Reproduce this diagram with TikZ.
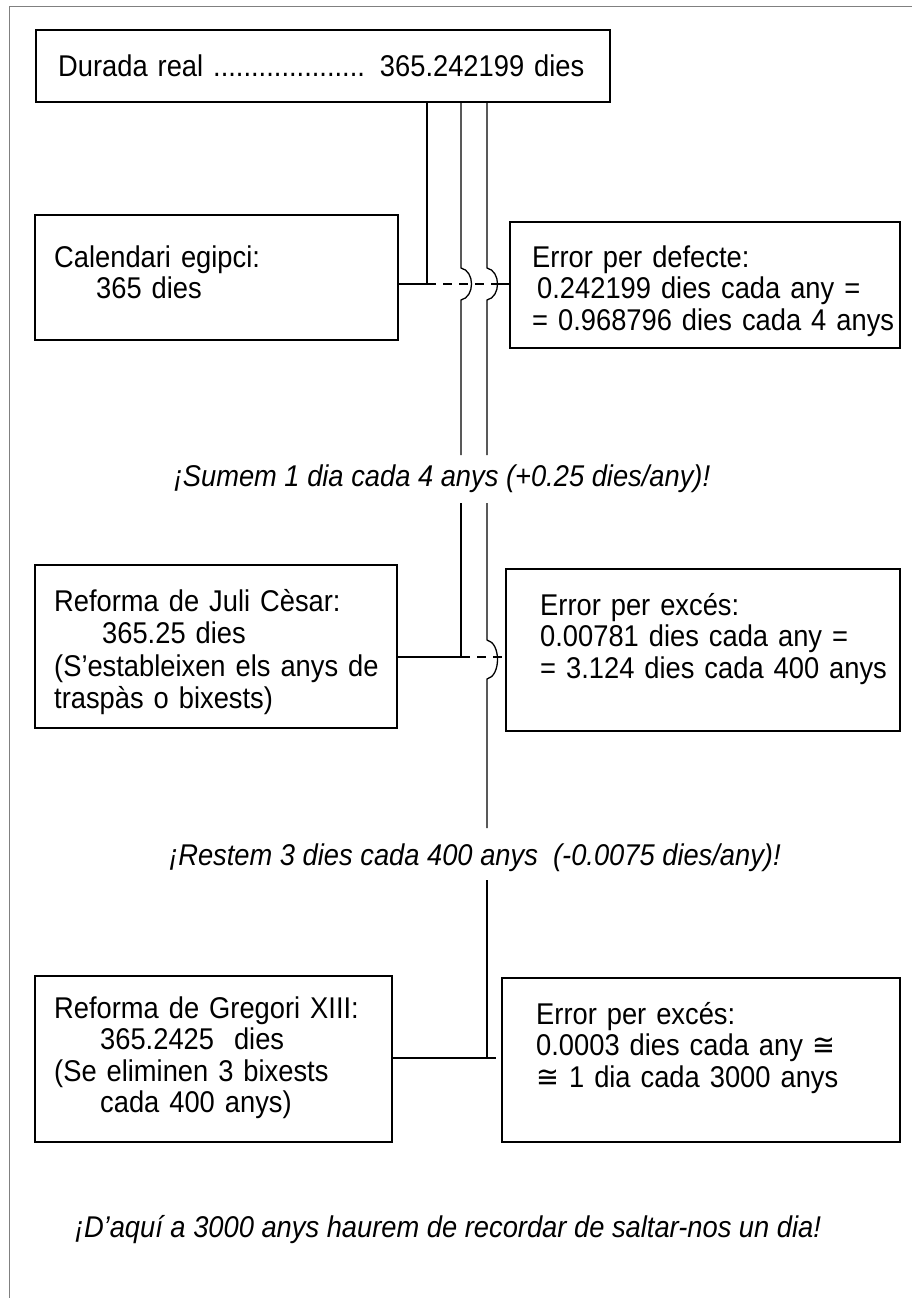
\documentclass[tikz,border=0pt]{standalone}
\usepackage{fontspec}
\setmainfont{Liberation Sans}[FakeStretch=0.91]
\newfontfamily\symfont{DejaVu Sans}[FakeStretch=0.91]
\begin{document}
\begin{tikzpicture}[x=1pt,y=-1pt,
  box/.style={draw, line width=1.6pt, inner sep=0pt},
  conn/.style={line width=1.3pt},
  dsh/.style={line width=1.3pt, dash pattern=on 9pt off 7pt},
  txt/.style={font=\fontsize{30}{31.5}\selectfont, inner sep=0pt, anchor=base west, text width=600pt, align=left},
  ital/.style={font=\fontsize{30}{31.5}\selectfont\itshape, inner sep=0pt, anchor=base}]
\useasboundingbox (0,0) rectangle (912,1298);
\draw[gray, line width=1pt] (9,1298) -- (9,7) -- (912,7);

% boxes
\node[box, minimum width=574pt, minimum height=72pt] (top) at (323,66) {};
\node[box, minimum width=363pt, minimum height=125pt] (egy) at (216.5,277.5) {};
\node[box, minimum width=390pt, minimum height=126pt] (err1) at (705,285) {};
\node[box, minimum width=362pt, minimum height=163pt] (juli) at (216,646.5) {};
\node[box, minimum width=394pt, minimum height=162pt] (err2) at (703,650) {};
\node[box, minimum width=357pt, minimum height=166pt] (greg) at (213.5,1059) {};
\node[box, minimum width=398pt, minimum height=164pt] (err3) at (701,1060) {};

% texts
\node[txt] (topt) at (58,77) {Durada real .................... 365.242199 dies};
\node[txt] (egyt) at (54,267) {Calendari egipci:\\\hspace*{42pt}365 dies};
\node[txt] (err1t) at (532,267) {Error per defecte:\\\hspace*{5pt}0.242199 dies cada any =\\= 0.968796 dies cada 4 anys};
\node[txt, font=\fontsize{30}{32.5}\selectfont] (julit) at (54,611) {Reforma de Juli Cèsar:\\\hspace*{48pt}365.25 dies\\(S’estableixen els anys de\\traspàs o bixests)};
\node[txt] (err2t) at (540,615) {Error per excés:\\0.00781 dies cada any =\\= 3.124 dies cada 400 anys};
\node[txt] (gregt) at (54,1018) {Reforma de Gregori XIII:\\\hspace*{46pt}365.2425~ dies\\(Se eliminen 3 bixests\\\hspace*{46pt}cada 400 anys)};
\node[txt] (err3t) at (536,1024) {Error per excés:\\0.0003 dies cada any {\symfont ≅}\\{\symfont ≅} 1 dia cada 3000 anys};

\node[ital] (sumem) at (442,486) {¡Sumem 1 dia cada 4 anys (+0.25 dies/any)!};
\node[ital] (restem) at (475,865) {¡Restem 3 dies cada 400 anys~ (-0.0075 dies/any)!};
\node[ital] (final) at (448,1237) {¡D’aquí a 3000 anys haurem de recordar de saltar-nos un dia!};

% junction coordinates
\coordinate (h1) at (427,284);
\coordinate (h2) at (461,284);
\coordinate (h3) at (487,284);
\coordinate (j2) at (461,657);
\coordinate (j3) at (487,657);
\coordinate (g3) at (487,1058);
\coordinate (gapA) at (0,455);
\coordinate (gapB) at (0,503);
\coordinate (gapC) at (0,828);
\coordinate (gapD) at (0,880);

% egyptian calendar
\draw[conn] (top.south -| h1) -- (h1) -- (h1 -| egy.east);
\draw[dsh] (h1) -- ([xshift=72pt]h1);
\draw[conn] ([xshift=72pt]h1) -- (h1 -| err1.west);

% second line (Juli)
\draw[conn] (top.south -| h2) -- ([yshift=16pt]h2) .. controls +(14,3) and +(14,-3) .. ([yshift=-16pt]h2) -- (h2 |- gapA);
\draw[conn] (h2 |- gapB) -- (j2) -- (j2 -| juli.east);
\draw[dsh] (j2) -- (j2 -| err2.west);

% third line (Gregori)
\draw[conn] (top.south -| h3) -- ([yshift=16pt]h3) .. controls +(14,3) and +(14,-3) .. ([yshift=-16pt]h3) -- (h3 |- gapA);
\draw[conn] (h3 |- gapB) -- ([yshift=17pt]j3) .. controls +(14,3) and +(14,-3) .. ([yshift=-22pt]j3) -- (h3 |- gapC);
\draw[conn] (h3 |- gapD) -- (g3) -- (g3 -| greg.east);
\draw[dsh] (g3) -- (g3 -| err3.west);
\end{tikzpicture}
\end{document}
